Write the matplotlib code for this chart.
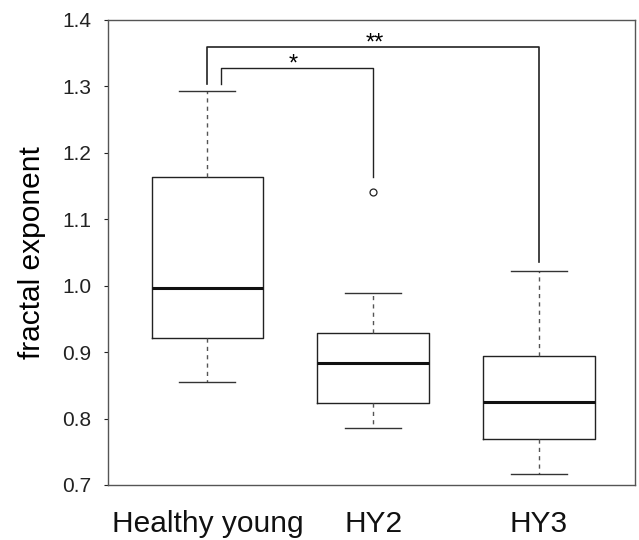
import matplotlib
matplotlib.use("Agg")
import matplotlib.pyplot as plt

plt.rcParams['font.family'] = ['Liberation Sans', 'DejaVu Sans']

groups = ["Healthy young", "HY2", "HY3"]
# box statistics
whislo = [0.855, 0.786, 0.717]
q1 = [0.921, 0.823, 0.769]
med = [0.997, 0.884, 0.825]
q3 = [1.163, 0.929, 0.894]
whishi = [1.293, 0.989, 1.022]
fliers = [[], [1.141], []]

stats = []
for i in range(len(groups)):
	stats.append(dict(label=groups[i], whislo=whislo[i], q1=q1[i], med=med[i],
		q3=q3[i], whishi=whishi[i], fliers=fliers[i]))

fig = plt.figure(figsize=(6.39, 5.4), dpi=100)
ax = fig.add_axes([0.169, 0.102, 0.825, 0.861])

ax.bxp(stats, positions=[1, 2, 3], widths=0.675, showfliers=True,
	boxprops=dict(color='#222222', linewidth=1.0),
	medianprops=dict(color='#111111', linewidth=2.2),
	whiskerprops=dict(color='#555555', linewidth=1.0, linestyle=(0, (3, 3))),
	capprops=dict(color='#333333', linewidth=1.0),
	flierprops=dict(marker='o', markersize=5, markerfacecolor='none',
		markeredgecolor='#222222', markeredgewidth=0.9))

# significance brackets
ax.plot([1, 1, 3, 3], [1.303, 1.36, 1.36, 1.036], color='#222222', lw=1.2)
ax.plot([1.08, 1.08, 2, 2], [1.303, 1.328, 1.328, 1.164], color='#222222', lw=1.0)
ax.text(1.52, 1.316, "*", ha='center', va='bottom', fontsize=17)
ax.text(2.01, 1.348, "**", ha='center', va='bottom', fontsize=17)

ax.set_xlim(0.4, 3.58)
ax.set_ylim(0.7, 1.4)
ax.set_yticks([0.7, 0.8, 0.9, 1.0, 1.1, 1.2, 1.3, 1.4])
ax.set_yticklabels(["0.7", "0.8", "0.9", "1.0", "1.1", "1.2", "1.3", "1.4"])
ax.tick_params(axis='y', labelsize=15, length=3, width=0.8, colors='#222222', pad=9)
ax.tick_params(axis='x', length=0, pad=18, colors='#111111')
ax.set_xticks([1, 2, 3])
ax.set_xticklabels(groups, fontsize=21.5)
ax.set_ylabel("fractal exponent", fontsize=21.5, labelpad=12)
for s in ax.spines.values():
	s.set_color('#555555')
	s.set_linewidth(1.0)

fig.savefig("out.png", dpi=100)
